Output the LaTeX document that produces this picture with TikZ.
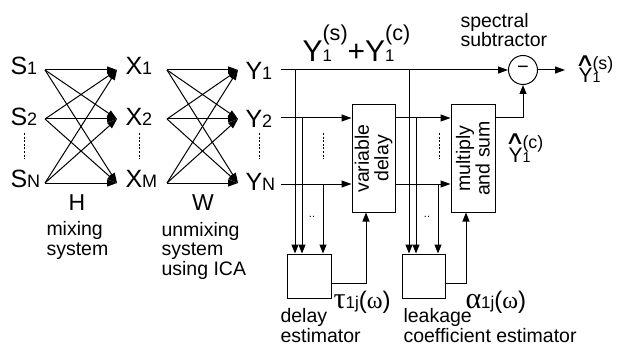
\documentclass[tikz,border=0pt]{standalone}
\usepackage{fontspec}
\setmainfont{Liberation Sans}
\newfontfamily\grk{Liberation Serif}
\newfontfamily\symf{DejaVu Sans}
\usepackage{graphicx}
\usetikzlibrary{arrows.meta}
% main label: letter with smaller index on the baseline
\newcommand{\lbl}[2]{#1\scalebox{0.72}{#2}}
% base with stacked sub and sup: #1 base, #2 sub, #3 sup, #4 subscale, #5 supscale, #6 raise
\newcommand{\ssb}[6]{#1\rlap{\scalebox{#4}{#2}}\raisebox{#6}{\scalebox{#5}{#3}}}
\newcommand{\fs}[1]{\fontsize{#1}{#1}\selectfont}
\newcommand{\hatc}{\scalebox{1.5}[1]{∧}}
\begin{document}
\begin{tikzpicture}[x=1pt,y=-1pt,line width=1pt,
  arr/.style={-{Triangle[length=10pt,width=7pt]}},
  varr/.style={-{Triangle[length=9pt,width=7pt]}},
  big/.style={inner sep=0pt,font=\fs{25}},
  small/.style={inner sep=0pt,font=\fs{19.5},align=left},
  box/.style={draw,inner sep=0pt},
  hatn/.style={inner sep=0pt,font=\symf\fs{18.5},text height=9pt,text depth=0pt},
  dots/.style={dash pattern=on 2pt off 1.6pt,line width=0.9pt}]
\path[use as bounding box] (0,0) rectangle (630,345);

% labels S, X, Y
\node[big,anchor=base west] (S1) at (10,75) {\lbl{S}{1}};
\node[big,anchor=base west] (S2) at (10,125) {\lbl{S}{2}};
\node[big,anchor=base west] (SN) at (10,187) {\lbl{S}{N}};
\node[big,anchor=base west] (X1) at (125,75) {\lbl{X}{1}};
\node[big,anchor=base west] (X2) at (125,125) {\lbl{X}{2}};
\node[big,anchor=base west] (XM) at (125,187) {\lbl{X}{M}};
\node[big,anchor=base west] (Y1) at (245,80) {\lbl{Y}{1}};
\node[big,anchor=base west] (Y2) at (245,128) {\lbl{Y}{2}};
\node[big,anchor=base west] (YN) at (245,190) {\lbl{Y}{N}};

% dotted separators
\foreach \n/\x in {d1/24,d2/139,d3/259,d4/323,d5/439}{
  \coordinate (\n a) at (\x,133); \coordinate (\n b) at (\x,159);
  \draw[dots] (\n a) -- (\n b);}

% arrow endpoints
\foreach \n/\y in {1/70,2/119,3/183}{
  \coordinate (so\n) at (45,\y);
  \coordinate (xi\n) at (117,\y);
  \coordinate (xo\n) at (167,\y);
  \coordinate (yi\n) at (238,\y);}
\foreach \i in {1,2,3}{\foreach \j in {1,2,3}{
  \draw[arr] (so\i) -- (xi\j);
  \draw[arr] (xo\i) -- (yi\j);}}

\node[inner sep=0pt,font=\fs{23},anchor=base] (H) at (77,210) {H};
\node[inner sep=0pt,font=\fs{23},anchor=base] (W) at (203,210) {W};
\node[small,anchor=base west] (mix) at (46,255) {mixing\\system};
\node[small,anchor=base west] (unmix) at (161,275) {unmixing\\system\\using ICA};

% right part
\coordinate (y1o) at (281,70);
\coordinate (y2o) at (281,118);
\coordinate (yno) at (281,184);

\node[box,minimum width=43pt,minimum height=107pt] (vd) at (373.5,158.5) {};
\node[small,align=center,rotate=90] (vdt) at (vd.center) {variable\\delay};
\node[box,minimum width=44pt,minimum height=107pt] (ms) at (473,158.5) {};
\node[small,align=center,rotate=90] (mst) at (ms.center) {multiply\\and sum};
\node[box,minimum width=44pt,minimum height=44pt] (de) at (309,276) {};
\node[box,minimum width=43pt,minimum height=44pt] (le) at (423.5,276) {};
\node[draw,circle,minimum size=29pt,inner sep=0pt,font=\fs{20}] (sub) at (523,70) {−};

\draw[arr] (y1o) -- (sub.west);
\draw[arr] (y2o) -- (y2o -| vd.west);
\draw[arr] (yno) -- (yno -| vd.west);
\draw[arr] (y2o -| vd.east) -- (y2o -| ms.west);
\draw[arr] (yno -| vd.east) -- (yno -| ms.west);

\coordinate (b1) at (295,70);
\coordinate (b2) at (302,118);
\coordinate (b3) at (323,184);
\coordinate (c1) at (409,70);
\coordinate (c2) at (416,118);
\coordinate (c3) at (438,184);
\foreach \p in {b1,b2,b3}{\draw[varr] (\p) -- (\p |- de.north);}
\foreach \p in {c1,c2,c3}{\draw[varr] (\p) -- (\p |- le.north);}

\node[inner sep=0pt,font=\fs{11}] (dd1) at (312,217) {..};
\node[inner sep=0pt,font=\fs{11}] (dd2) at (427,217) {..};

\coordinate (dt) at (366,283);
\coordinate (lt) at (466,283);
\draw[varr] (de.east |- dt) -- (dt) -- (dt |- vd.south);
\draw[varr] (le.east |- lt) -- (lt) -- (lt |- ms.south);
\coordinate (mo) at (523,118);
\draw[varr] (ms.east |- mo) -- (mo) -- (sub.south);
\coordinate (outp) at (565,70);
\draw[arr] (sub.east) -- (outp);

% texts
\node[inner sep=0pt,anchor=base west,font=\fs{30}] (ysc) at (302,62)
  {\ssb{Y}{1}{(s)}{0.56}{0.72}{0.72em}+\ssb{Y}{1}{(c)}{0.56}{0.72}{0.72em}};
\node[small,anchor=base west] (spec) at (460,47) {spectral\\subtractor};

\node[hatn,anchor=base] (hs) at (585,67) {\hatc};
\node[inner sep=0pt,anchor=base west,font=\fs{21}] (yhs) at (578,83)
  {\ssb{Y}{1}{(s)}{0.68}{0.85}{0.65em}};
\node[hatn,anchor=base] (hc) at (515,145) {\hatc};
\node[inner sep=0pt,anchor=base west,font=\fs{21}] (yhc) at (508,162)
  {\ssb{Y}{1}{(c)}{0.68}{0.85}{0.65em}};

\node[inner sep=0pt,anchor=base west] (tau) at (333,308)
  {{\grk\fs{30}τ}{\fs{17}1j}{\fs{24}({\grk ω})}};
\node[inner sep=0pt,anchor=base west] (alp) at (465,308)
  {{\grk\fs{30}α}{\fs{17}1j}{\fs{24}({\grk ω})}};
\node[small,anchor=base west] (dlab) at (280,342) {delay\\estimator};
\node[small,anchor=base west] (llab) at (403,342) {leakage\\coefficient estimator};
\end{tikzpicture}
\end{document}
